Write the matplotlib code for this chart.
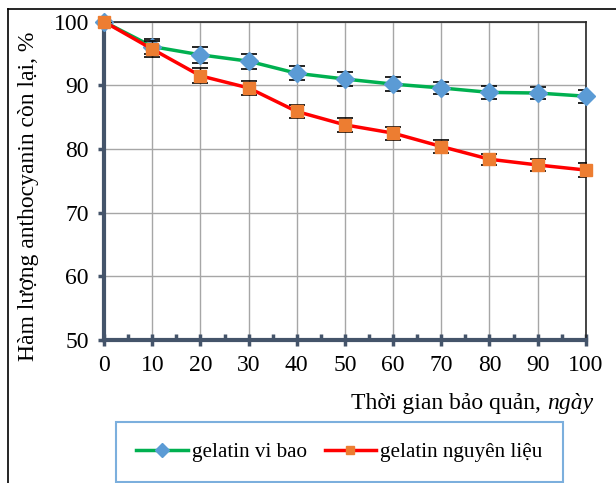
import numpy as np
import matplotlib.pyplot as plt
from matplotlib.lines import Line2D

plt.rcParams['font.family'] = ['Liberation Serif', 'DejaVu Serif']

# Dữ liệu
days = [0, 10, 20, 30, 40, 50, 60, 70, 80, 90, 100]
vi_bao = [100, 96.1, 94.8, 93.8, 91.9, 91.0, 90.2, 89.6, 88.9, 88.8, 88.3]
vi_bao_err = [0, 1.2, 1.3, 1.2, 1.1, 1.1, 1.1, 1.0, 1.0, 1.0, 1.0]
nguyen_lieu = [100, 95.7, 91.5, 89.6, 85.9, 83.8, 82.5, 80.4, 78.4, 77.5, 76.7]
nguyen_lieu_err = [0, 1.2, 1.2, 1.1, 1.0, 1.1, 1.0, 1.0, 0.9, 1.0, 1.1]
yticks = [50, 60, 70, 80, 90, 100]

axis_col = '#44546A'

fig = plt.figure(figsize=(6.16, 4.83), dpi=100)
ax = fig.add_axes([0.169, 0.296, 0.782, 0.659])

eb1 = ax.errorbar(days, vi_bao, yerr=vi_bao_err, color='#00B050', lw=2.5,
                  marker='D', ms=9, mfc='#5B9BD5', mec='#5B9BD5',
                  ecolor='black', elinewidth=1, capsize=6, capthick=1.2, zorder=6)
eb2 = ax.errorbar(days, nguyen_lieu, yerr=nguyen_lieu_err, color='#FF0000', lw=2.5,
                  marker='s', ms=8, mfc='#ED7D31', mec='#ED7D31',
                  ecolor='black', elinewidth=1, capsize=6, capthick=1.2, zorder=7)
for eb in (eb1, eb2):
    eb[0].set_clip_on(False)

ax.set_xlim(0, 100)
ax.set_ylim(50, 100)
ax.set_xticks(days)
ax.set_xticks(np.arange(5, 100, 10), minor=True)
ax.set_yticks(yticks)
ax.grid(True, color='#A6A6A6', lw=1)
ax.set_axisbelow(True)

for s in ['left', 'bottom']:
    ax.spines[s].set_color(axis_col)
    ax.spines[s].set_linewidth(3)
for s in ['top', 'right']:
    ax.spines[s].set_color('#262626')
    ax.spines[s].set_linewidth(1.2)
ax.spines['left'].set_zorder(5)
ax.spines['bottom'].set_zorder(5)

ax.tick_params(axis='x', which='major', direction='inout', length=8, width=2.5,
               color=axis_col, labelsize=17, pad=7)
ax.tick_params(axis='x', which='minor', direction='in', length=4, width=2.5,
               color=axis_col)
ax.tick_params(axis='y', which='major', direction='out', length=4, width=2.5,
               color=axis_col, labelsize=17, pad=7)

ax.set_ylabel('Hàm lượng anthocyanin còn lại, %', fontsize=17)
ax.yaxis.set_label_coords(-0.135, 0.45)
t1 = fig.text(0.888, 0.142, 'Thời gian bảo quản, ', fontsize=17, ha='right', va='bottom')
ax.annotate('ngày', xy=(1, 0), xycoords=t1, fontsize=17, style='italic',
            ha='left', va='bottom')

handles = [
    Line2D([], [], color='#00B050', lw=2.5, marker='D', ms=7,
           mfc='#5B9BD5', mec='#5B9BD5'),
    Line2D([], [], color='#FF0000', lw=2.5, marker='s', ms=6,
           mfc='#ED7D31', mec='#ED7D31'),
]
leg = fig.legend(handles, ['gelatin vi bao', 'gelatin nguyên liệu'],
                 loc='upper left', bbox_to_anchor=(0.188, 0.126),
                 ncol=2, fontsize=15.2, frameon=True,
                 fancybox=False, edgecolor='#5B9BD5', handlelength=2.45,
                 borderpad=0.95, columnspacing=0.85, handletextpad=0.19,
                 borderaxespad=0)
leg.get_frame().set_linewidth(1.5)

# khung ngoài
fig.add_artist(Line2D([0.013, 1.0], [0.981, 0.981], color='black', lw=1.2))
fig.add_artist(Line2D([0.013, 0.013], [0.0, 0.981], color='black', lw=1.2))

fig.savefig('out.png', dpi=100)
